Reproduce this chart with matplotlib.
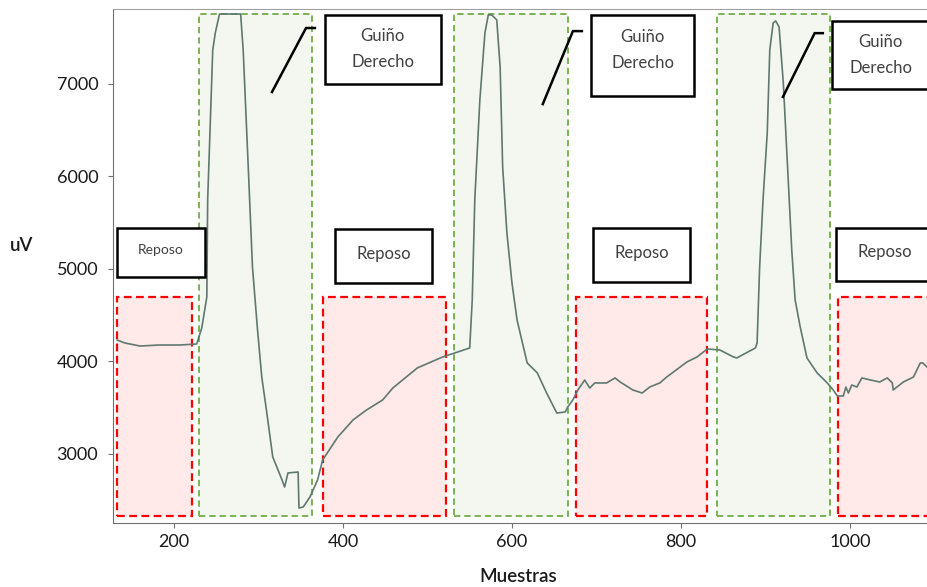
import matplotlib
matplotlib.use('Agg')
from matplotlib import pyplot as plt
from matplotlib.patches import Rectangle

plt.rcParams['font.family'] = ['Lato', 'DejaVu Sans']

""" DATA """
# muestras / uV
muestras = [133, 142, 160, 183, 207, 227, 233, 239, 240, 246, 249, 254, 279, 282, 288,
            293, 299, 304, 310, 317, 328, 331, 335, 347, 348, 353, 361, 370, 376, 394,
            412, 428, 447, 459, 488, 518, 536,
            550, 553, 556, 562, 568, 572, 576, 582, 586, 589, 594, 600, 606, 618, 630,
            641, 653, 663, 666, 672, 678, 686, 692, 698, 712, 722, 728, 743, 754, 763,
            775, 783, 791, 807, 819, 831, 846, 862, 866, 888, 890,
            893, 897, 902, 905, 909, 912, 916, 921, 927, 931, 935, 941, 949, 961, 973,
            980, 985, 992, 995, 998, 1002, 1008, 1014, 1024, 1035, 1044, 1050, 1051,
            1063, 1075, 1083, 1086, 1091]
uv = [4232, 4200, 4167, 4178, 4178, 4189, 4362, 4697, 5746, 7367, 7551, 7756, 7756, 7367, 6102,
      5021, 4340, 3832, 3443, 2968, 2719, 2643, 2795, 2805, 2416, 2427, 2535, 2719, 2935, 3184,
      3368, 3476, 3584, 3713, 3930, 4049, 4103,
      4146, 4665, 5746, 6827, 7551, 7746, 7746, 7692, 7183, 6102, 5389, 4849, 4449, 3984, 3876,
      3659, 3443, 3454, 3508, 3584, 3692, 3800, 3713, 3768, 3768, 3822, 3778, 3692, 3659, 3724,
      3768, 3832, 3886, 3995, 4049, 4135, 4124, 4049, 4038, 4146, 4200,
      5021, 5746, 6470, 7367, 7659, 7681, 7616, 7011, 5930, 5205, 4665, 4373, 4038, 3876, 3768,
      3692, 3627, 3627, 3724, 3659, 3746, 3724, 3822, 3800, 3778, 3822, 3768, 3692,
      3778, 3832, 3984, 3984, 3941]

# tramos marcados (inicio, fin) en muestras
reposo_ini = [133, 376, 676, 986]
reposo_fin = [222, 522, 831, 1130]
reposo_bajo, reposo_alto = 2330, 4700
guino_ini = [230, 531, 843]
guino_fin = [364, 666, 976]
guino_bajo, guino_alto = 2330, 7756

""" PLOT """
fig = plt.figure(figsize=(9.27, 5.87), dpi=100)
ax = fig.add_axes([113/927, 64/587, 814/927, 514/587])

for a, b in zip(reposo_ini, reposo_fin):
    ax.add_patch(Rectangle((a, reposo_bajo), b - a, reposo_alto - reposo_bajo,
                           facecolor='#ffe9e9', edgecolor='#ff0000', lw=1.6,
                           linestyle=(0, (3.5, 2)), zorder=1))
for a, b in zip(guino_ini, guino_fin):
    ax.add_patch(Rectangle((a, guino_bajo), b - a, guino_alto - guino_bajo,
                           facecolor='#f4f7ef', edgecolor='#70ad47', lw=1.3,
                           linestyle=(0, (3.5, 2.2)), zorder=1))

ax.plot(muestras, uv, color='#5f7870', lw=1.2, zorder=3)

ax.set_xlim(128, 1091)
ax.set_ylim(2254, 7810)
ax.set_xticks([200, 400, 600, 800, 1000])
ax.set_yticks([3000, 4000, 5000, 6000, 7000])

ax.spines['right'].set_visible(False)
ax.spines['left'].set_color('#707070')
ax.spines['bottom'].set_color('#707070')
ax.spines['top'].set_color('#a0a0a0')
ax.tick_params(axis='both', direction='out', length=3.6, color='#707070',
               labelsize=13, labelcolor='#1a1a1a')
ax.tick_params(axis='y', pad=7)
ax.tick_params(axis='x', pad=4)

ax.set_xlabel('Muestras', fontsize=13.5, fontweight='semibold', color='#1a1a1a', va='center')
ax.xaxis.set_label_coords(0.4975, -0.105)
ax.set_ylabel('uV', fontsize=13.5, fontweight='semibold', color='#1a1a1a', rotation=0,
              va='center', ha='center')
ax.yaxis.set_label_coords(-0.112, 0.539)

# cuadros de texto (axes fraction)
cajas_reposo = [(0.005, 0.479, 0.108, 0.095, 10), (0.273, 0.467, 0.119, 0.105, 12),
                (0.590, 0.469, 0.119, 0.105, 12), (0.888, 0.471, 0.12, 0.103, 12)]
for x0, y0, w, h, fs in cajas_reposo:
    ax.add_patch(Rectangle((x0, y0), w, h, transform=ax.transAxes, facecolor='white',
                           edgecolor='black', lw=1.8, zorder=5, clip_on=False))
    ax.text(x0 + w/2, y0 + h/2 + 0.004, 'Reposo', transform=ax.transAxes,
            ha='center', va='center', fontsize=fs, color='#404040', zorder=6)

cajas_guino = [(0.260, 0.854, 0.143, 0.134, 0.3315), (0.587, 0.831, 0.127, 0.157, 0.6505),
               (0.883, 0.844, 0.13, 0.133, 0.943)]
for x0, y0, w, h, xc in cajas_guino:
    ax.add_patch(Rectangle((x0, y0), w, h, transform=ax.transAxes, facecolor='white',
                           edgecolor='black', lw=1.8, zorder=5, clip_on=False))
    yc = y0 + h - 0.066 if h < 0.15 else y0 + h - 0.068
    ax.text(xc, yc + 0.025, 'Guiño', transform=ax.transAxes, ha='center', va='center',
            fontsize=12, color='#404040', zorder=6)
    ax.text(xc, yc - 0.025, 'Derecho', transform=ax.transAxes, ha='center', va='center',
            fontsize=12, color='#404040', zorder=6)

flechas = [([0.1953, 0.2371, 0.248], [0.8385, 0.963, 0.963]),
           ([0.528, 0.565, 0.576], [0.815, 0.957, 0.957]),
           ([0.823, 0.862, 0.872], [0.829, 0.953, 0.953])]
for fx, fy in flechas:
    ax.plot(fx, fy, transform=ax.transAxes, color='black', lw=1.8, zorder=6,
            solid_joinstyle='miter')

fig.savefig('out.png', dpi=100)
